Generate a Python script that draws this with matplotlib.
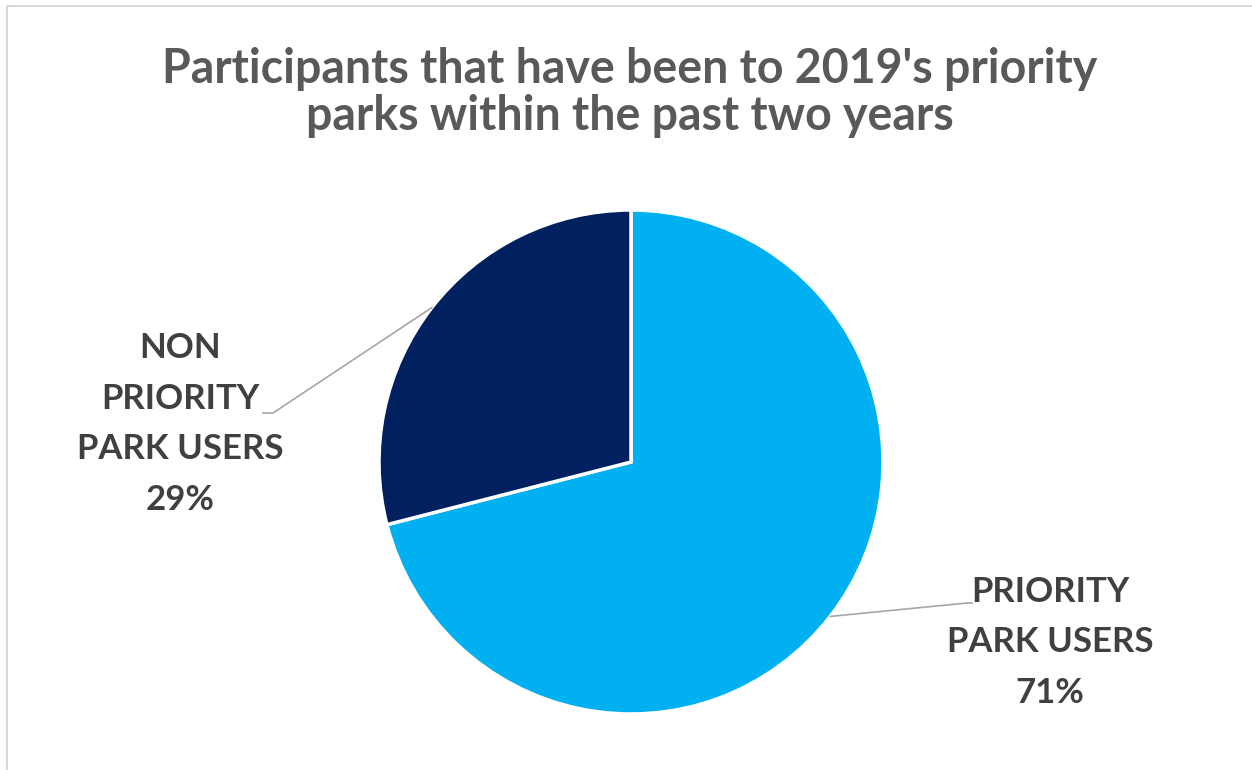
import numpy as np
import matplotlib.pyplot as plt

# ---------------------------------------------------------------------------
# Data
# ---------------------------------------------------------------------------
labels = ["PRIORITY\nPARK USERS", "NON\nPRIORITY\nPARK USERS"]
shares = [71, 29]
colors = ["#00B0F0", "#002060"]
title = "Participants that have been to 2019's priority\nparks within the past two years"

plt.rcParams["font.family"] = ["Lato", "DejaVu Sans"]

W, H = 1252, 770
fig = plt.figure(figsize=(W / 100, H / 100), dpi=100)
ax = fig.add_axes([0, 0, 1, 1])
ax.set_xlim(0, W)
ax.set_ylim(0, H)
ax.set_aspect("equal")
ax.axis("off")

# light frame (only top and left visible in the cropped source)
ax.plot([7, 7, W + 5], [-5, H - 6, H - 6], color="#D9D9D9", lw=1.5,
        clip_on=False)

cx, cy, r = 631, H - 462, 252
wedges, _ = ax.pie(shares, colors=colors, startangle=90, counterclock=False,
                   center=(cx, cy), radius=r, frame=True,
                   wedgeprops=dict(edgecolor="white", linewidth=2.5))
ax.set_xlim(0, W)
ax.set_ylim(0, H)
ax.axis("off")

# label anchors (text centre x, last-line baseline y) and leader-line elbows
text_pos = [(1050, H - 703), (180, H - 510)]
elbows = [[(967, H - 603), (972, H - 603)],
          [(273, H - 413), (263, H - 413)]]

for w, lab, val, (tx, ty), elb in zip(wedges, labels, shares, text_pos, elbows):
    mid = np.deg2rad((w.theta1 + w.theta2) / 2)
    px, py = cx + r * np.cos(mid), cy + r * np.sin(mid)
    xs = [px] + [e[0] for e in elb]
    ys = [py] + [e[1] for e in elb]
    ax.plot(xs, ys, color="#A6A6A6", lw=1.2)
    ax.text(tx, ty, f"{lab}\n{val}%", ha="center", va="baseline", fontsize=25,
            fontweight="bold", color="#404040", linespacing=1.72,
            multialignment="center")

ax.text(630, H - 130, title, ha="center", va="baseline", fontsize=33.5,
        fontweight="bold", color="#595959", linespacing=1.07,
        multialignment="center")

fig.savefig("out.png", dpi=100)
